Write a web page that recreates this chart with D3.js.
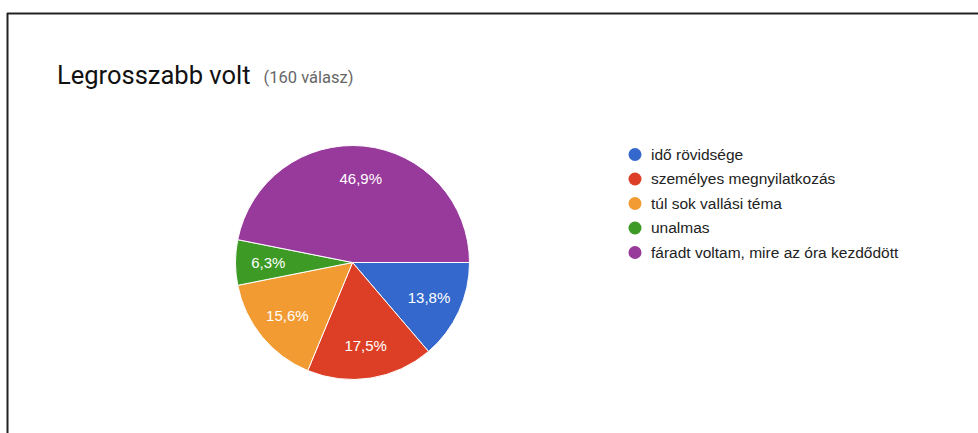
<!DOCTYPE html>
<html>
<head>
<meta charset="utf-8">
<script src="https://cdn.jsdelivr.net/npm/d3@7"></script>
<style>
  html, body { margin: 0; padding: 0; background: #fff; }
  svg { display: block; }
</style>
</head>
<body>
<svg id="chart" width="978" height="433"></svg>
<script>
const titleText = "Legrosszabb volt";
const subtitleText = "(160 válasz)";
const categories = ["idő rövidsége", "személyes megnyilatkozás", "túl sok vallási téma", "unalmas", "fáradt voltam, mire az óra kezdődött"];
const counts = [22, 28, 25, 10, 75];
const colors = ["#3468cc", "#dc3f25", "#f29b33", "#3c9a25", "#983a9c"];

const svg = d3.select("#chart");
const W = 978, H = 433;

// frame
svg.append("line").attr("x1", 7).attr("x2", W).attr("y1", 13.5).attr("y2", 13.5)
  .attr("stroke", "#222").attr("stroke-width", 2);
svg.append("line").attr("x1", 7.5).attr("x2", 7.5).attr("y1", 13).attr("y2", H)
  .attr("stroke", "#222").attr("stroke-width", 2);

// title
const title = svg.append("text").attr("x", 57).attr("y", 84)
  .attr("font-family", "Roboto, Arial, sans-serif").attr("font-size", 25.5)
  .attr("fill", "#111").text(titleText);
const tw = title.node().getComputedTextLength();
svg.append("text").attr("x", 57 + tw + 13).attr("y", 83)
  .attr("font-family", "Roboto, Arial, sans-serif").attr("font-size", 16.5)
  .attr("fill", "#666").text(subtitleText);

// pie
const cx = 352.5, cy = 262.5, r = 117;
const total = d3.sum(counts);
const data = categories.map((c, i) => ({ cat: c, value: counts[i], color: colors[i] }));
const pie = d3.pie().value(d => d.value).sort(null)
  .startAngle(Math.PI / 2).endAngle(Math.PI / 2 + 2 * Math.PI);
const arcs = pie(data);
const arc = d3.arc().innerRadius(0).outerRadius(r);
const labelArc = d3.arc().innerRadius(r * 0.72).outerRadius(r * 0.72);

const g = svg.append("g").attr("transform", `translate(${cx},${cy})`);
g.selectAll("path").data(arcs).join("path")
  .attr("d", arc).attr("fill", d => d.data.color)
  .attr("stroke", "#fff").attr("stroke-width", 1);

const fmt = v => (Math.round(v / total * 1000) / 10).toFixed(1).replace(".", ",") + "%";
g.selectAll("text.lbl").data(arcs).join("text").attr("class", "lbl")
  .attr("transform", d => { const [x, y] = labelArc.centroid(d); return `translate(${x},${y})`; })
  .attr("text-anchor", "middle").attr("dy", "0.35em")
  .attr("font-family", "Arial, 'Liberation Sans', sans-serif").attr("font-size", 15)
  .attr("fill", "#fff").text(d => fmt(d.data.value));

// legend
const legendY = d3.scalePoint().domain(categories).range([154.5, 252.5]);
const lg = svg.append("g");
const items = lg.selectAll("g").data(data).join("g")
  .attr("transform", d => `translate(0,${legendY(d.cat)})`);
items.append("circle").attr("cx", 635).attr("cy", 0).attr("r", 6.5).attr("fill", d => d.color);
items.append("text").attr("x", 651).attr("y", 0).attr("dy", "0.35em")
  .attr("font-family", "Arial, 'Liberation Sans', sans-serif").attr("font-size", 15.5)
  .attr("fill", "#222").text(d => d.cat);
</script>
</body>
</html>
